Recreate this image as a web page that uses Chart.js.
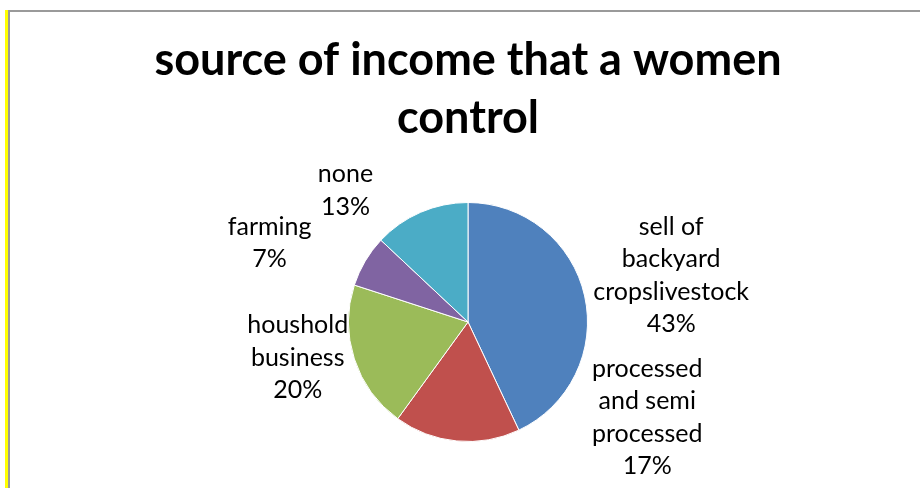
<!DOCTYPE html>
<html>
<head>
<meta charset="utf-8">
<title>source of income that a women control</title>
<script src="https://cdn.jsdelivr.net/npm/chart.js@4.4.1/dist/chart.umd.min.js"></script>
<style>
  html, body { margin: 0; padding: 0; background: #fff; }
  .wrap { position: relative; width: 920px; height: 488px; overflow: hidden; }
  .edge-yellow { position: absolute; left: 5px; top: 10px; width: 3px; height: 478px; background: #ffff00; }
  .frame { position: absolute; left: 8px; top: 10px; width: 912px; height: 478px;
           border-top: 2px solid #9a9a9a; border-left: 2px solid #9a9a9a; box-sizing: border-box; }
  #pie { position: absolute; left: 0; top: 0; }
</style>
</head>
<body>
<div class="wrap">
  <div class="edge-yellow"></div>
  <div class="frame"></div>
  <canvas id="pie" width="920" height="488"></canvas>
</div>
<script>
  // categories (already broken into the lines shown on the label)
  const categorias = [
    ['sell of', 'backyard', 'cropslivestock'],
    ['processed', 'and semi', 'processed'],
    ['houshold', 'business'],
    ['farming'],
    ['none'],
  ];
  const porcentajes = [43, 17, 20, 7, 13];
  const colores = ['#4F81BD', '#C0504D', '#9BBB59', '#8064A2', '#4BACC6'];

  // where each label block sits, in pie radii from the centre
  const labelPos = [
    [1.70, -0.39],
    [1.50, 0.80],
    [-1.425, 0.30],
    [-1.66, -0.66],
    [-1.025, -1.10],
  ];

  const labelFont = '25px Lato';
  const labelLine = 32.5;

  const etiquetas = {
    id: 'etiquetas',
    afterDatasetsDraw(chart) {
      const arc = chart.getDatasetMeta(0).data[0];
      if (!arc) return;
      const { x: cx, y: cy, outerRadius: r } = arc;
      const ctx = chart.ctx;
      ctx.save();
      ctx.font = labelFont;
      ctx.fillStyle = '#000';
      ctx.textAlign = 'center';
      ctx.textBaseline = 'middle';
      categorias.forEach((lineas, i) => {
        const txt = [...lineas, porcentajes[i] + '%'];
        const x = cx + labelPos[i][0] * r;
        const y0 = cy + labelPos[i][1] * r - (txt.length - 1) * labelLine / 2;
        txt.forEach((t, k) => ctx.fillText(t, x, y0 + k * labelLine));
      });
      ctx.restore();
    }
  };

  new Chart(document.getElementById('pie'), {
    type: 'pie',
    data: {
      labels: categorias.map((l) => l.join(' ')),
      datasets: [{
        data: porcentajes,
        backgroundColor: colores,
        borderColor: '#ffffff',
        borderWidth: 1,
      }],
    },
    options: {
      responsive: false,
      animation: false,
      events: [],
      layout: { padding: { left: 16, right: 0, top: 0, bottom: 46 } },
      plugins: {
        legend: { display: false },
        tooltip: { enabled: false },
        title: {
          display: true,
          text: ['source of income that a women', 'control'],
          color: '#000',
          font: { family: 'Lato', size: 45, weight: 'bold', lineHeight: 58 / 45 },
          padding: { top: 31, bottom: 55 },
        },
      },
    },
    plugins: [etiquetas],
  });
</script>
</body>
</html>
